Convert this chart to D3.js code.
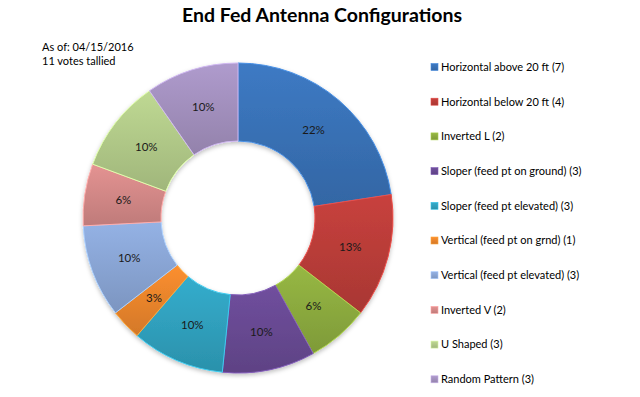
<!DOCTYPE html>
<html>
<head>
<meta charset="utf-8">
<script src="https://cdn.jsdelivr.net/npm/d3@7"></script>
<style>
  html, body { margin: 0; padding: 0; background: #fff; }
  svg { display: block; }
  text { font-family: Lato, "Liberation Sans", sans-serif; }
</style>
</head>
<body>
<svg id="chart" width="640" height="397"></svg>
<script>
const categories = [
  "Horizontal above 20 ft (7)",
  "Horizontal below 20 ft (4)",
  "Inverted L (2)",
  "Sloper (feed pt on ground) (3)",
  "Sloper (feed pt elevated) (3)",
  "Vertical (feed pt on grnd) (1)",
  "Vertical (feed pt elevated) (3)",
  "Inverted V (2)",
  "U Shaped (3)",
  "Random Pattern (3)"
];
const votes = [7, 4, 2, 3, 3, 1, 3, 2, 3, 3];
const percentLabels = ["22%", "13%", "6%", "10%", "10%", "3%", "10%", "6%", "10%", "10%"];
const colors = ["#3A74BA", "#BE3E3A", "#8FAE40", "#6A4B96", "#31A4C2", "#EF882D",
                "#8CA9D9", "#D88B8A", "#B5CE8B", "#A693C2"];
const titleText = "End Fed Antenna Configurations";
const noteLines = ["As of: 04/15/2016", "11 votes tallied"];

const svg = d3.select("#chart");
const defs = svg.append("defs");

colors.forEach((c, i) => {
  const g = defs.append("linearGradient").attr("id", "grad" + i)
    .attr("x1", 0).attr("y1", 0).attr("x2", 0).attr("y2", 1);
  g.append("stop").attr("offset", "0%").attr("stop-color", d3.color(c).brighter(0.15));
  g.append("stop").attr("offset", "100%").attr("stop-color", d3.color(c).darker(0.35));
});

const shadow = defs.append("filter").attr("id", "shadow")
  .attr("x", "-20%").attr("y", "-20%").attr("width", "140%").attr("height", "140%");
shadow.append("feDropShadow").attr("dx", 0).attr("dy", 2).attr("stdDeviation", 2)
  .attr("flood-color", "#000").attr("flood-opacity", 0.25);

// Title
svg.append("text")
  .attr("x", 322).attr("y", 22)
  .attr("text-anchor", "middle")
  .attr("font-size", 19.5).attr("font-weight", "bold")
  .attr("fill", "#000")
  .text(titleText);

// Notes
svg.selectAll("text.note").data(noteLines).enter().append("text")
  .attr("class", "note")
  .attr("x", 42).attr("y", (d, i) => 51 + i * 14)
  .attr("font-size", 11).attr("fill", "#000")
  .text(d => d);

// Donut
const cx = 238, cy = 218, outerR = 155, innerR = 77;
const pie = d3.pie().sort(null).value(d => d);
const arcs = pie(votes);
const arc = d3.arc().innerRadius(innerR).outerRadius(outerR);
const labelArc = d3.arc().innerRadius((innerR + outerR) / 2).outerRadius((innerR + outerR) / 2);

const g = svg.append("g").attr("transform", `translate(${cx},${cy})`);
g.append("g").attr("filter", "url(#shadow)")
  .selectAll("path").data(arcs).enter().append("path")
  .attr("d", arc)
  .attr("fill", (d, i) => `url(#grad${i})`)
  .attr("stroke", (d, i) => d3.color(colors[i]).brighter(0.6))
  .attr("stroke-width", 1);

g.selectAll("text.pct").data(arcs).enter().append("text")
  .attr("class", "pct")
  .attr("transform", d => `translate(${labelArc.centroid(d)})`)
  .attr("text-anchor", "middle").attr("dy", "0.35em")
  .attr("font-size", 11.5).attr("fill", "#1a1a1a")
  .text((d, i) => percentLabels[i]);

// Legend
const legendY = d3.scaleBand().domain(categories).range([50, 397]).paddingInner(0);
const legend = svg.append("g");
const items = legend.selectAll("g").data(categories).enter().append("g")
  .attr("transform", d => `translate(431,${legendY(d) + 17})`);
items.append("rect")
  .attr("x", 0).attr("y", -3.5).attr("width", 7).attr("height", 7)
  .attr("fill", (d, i) => `url(#grad${i})`)
  .attr("stroke", (d, i) => d3.color(colors[i]).brighter(0.5)).attr("stroke-width", 0.6);
items.append("text")
  .attr("x", 10).attr("y", 0).attr("dy", "0.35em")
  .attr("font-size", 11).attr("fill", "#000")
  .text(d => d);
</script>
</body>
</html>
